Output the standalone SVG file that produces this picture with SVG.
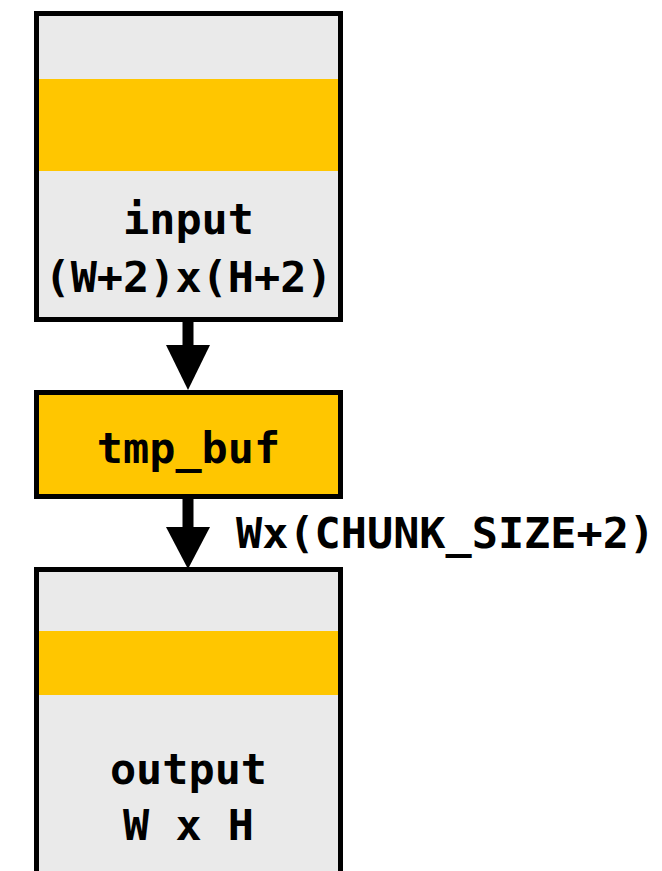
<svg xmlns="http://www.w3.org/2000/svg" width="662" height="871" viewBox="0 0 662 871">
<style>
.box{stroke:#000;stroke-width:5}
.gray{fill:#EAEAEA}
.yel{fill:#FFC600}
.t{font-family:"DejaVu Sans Mono","Liberation Mono",monospace;font-weight:bold;font-size:43.5px;fill:#000}
.c{text-anchor:middle}
</style>
<rect width="662" height="871" fill="#fff"/>
<g id="input">
<rect class="box gray" x="36.5" y="13.5" width="304" height="306"/>
<rect class="yel" x="39" y="79" width="299" height="92"/>
<text class="t c" x="188.5" y="234">input</text>
<text class="t c" x="188.5" y="292">(W+2)x(H+2)</text>
</g>
<g id="tmp_buf">
<rect class="box yel" x="36.5" y="392.5" width="304" height="104"/>
<text class="t c" x="188.5" y="463">tmp_buf</text>
</g>
<g id="output">
<rect class="box gray" x="36.5" y="569.5" width="304" height="320"/>
<rect class="yel" x="39" y="631" width="299" height="64"/>
<text class="t c" x="188.5" y="784">output</text>
<text class="t c" x="188.5" y="840">W x H</text>
</g>
<g id="connectors">
<rect x="182.5" y="322" width="11" height="25"/>
<polygon points="166,345 210,345 188,390"/>
<rect x="182.5" y="499" width="11" height="30"/>
<polygon points="166,527 210,527 188,569"/>
<text class="t" x="236" y="548">Wx(CHUNK_SIZE+2)</text>
</g>
</svg>
